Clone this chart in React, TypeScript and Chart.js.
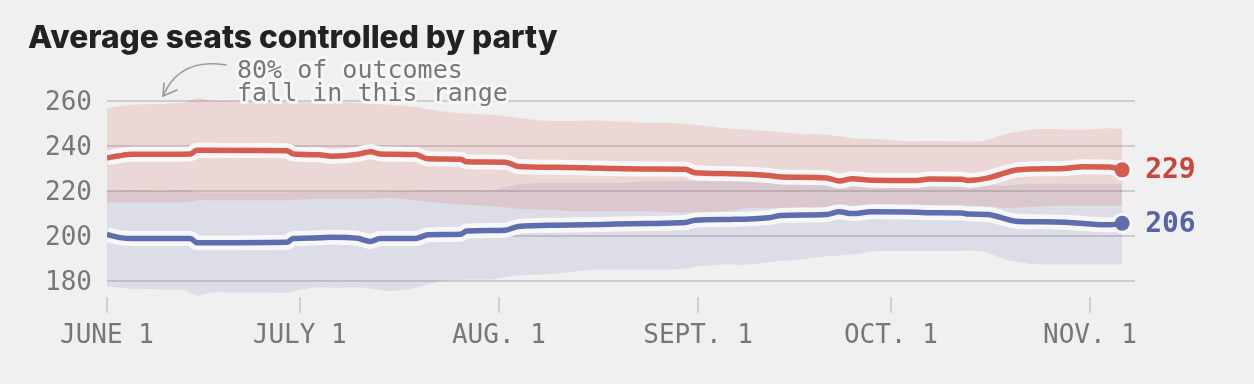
import React, { useEffect, useRef } from "react";
import { Chart, registerables } from "chart.js";

Chart.register(...registerables);

const TITLE = "Average seats controlled by party";
const NOTE_LINES = ["80% of outcomes", "fall in this range"];
const Y_TICKS = [180, 200, 220, 240, 260];
const X_TICK_DAYS = [0, 30, 61, 92, 122, 153];
const X_TICK_LABELS = ["JUNE 1", "JULY 1", "AUG. 1", "SEPT. 1", "OCT. 1", "NOV. 1"];
const END_LABELS = ["229", "206"];

// days since June 1
const MEAN_DAYS = [0, 2, 4, 13, 14, 28, 29, 33, 35, 39, 41, 42.5, 48, 50, 55, 56, 62, 64, 70, 77, 84, 90, 91.5, 97, 103, 105, 112, 114, 116, 119, 126, 128, 133, 134, 137, 141.5, 144, 149, 152, 156, 158];
const REP_MEAN = [234.8, 235.8, 236.4, 236.6, 238.2, 238.0, 236.5, 236.2, 235.5, 236.4, 237.6, 236.6, 236.3, 234.4, 234.2, 233.1, 232.9, 231.0, 230.6, 230.2, 229.9, 229.8, 228.2, 227.8, 227.0, 226.3, 225.9, 224.5, 225.5, 224.9, 224.8, 225.4, 225.3, 224.8, 225.8, 229.4, 229.9, 230.1, 230.9, 230.8, 229.5];
const DEM_MEAN = [200.7, 199.3, 198.9, 198.9, 197.0, 197.2, 198.9, 199.2, 199.5, 199.0, 197.6, 198.9, 198.9, 200.6, 200.8, 202.3, 202.6, 204.3, 204.8, 205.2, 205.6, 206.0, 207.0, 207.4, 208.2, 209.2, 209.6, 210.8, 210.0, 210.8, 210.6, 210.4, 210.3, 209.8, 209.6, 206.6, 206.4, 206.2, 205.6, 205.0, 205.7];

const BAND_DAYS = [0, 4, 8, 12, 14, 16, 20, 24, 28, 32, 36, 40, 44, 48, 52, 56, 60, 64, 68, 72, 76, 80, 84, 88, 92, 96, 100, 104, 108, 112, 116, 120, 124, 128, 132, 136, 140, 144, 148, 152, 156, 158];
const REP_HIGH = [257, 258.5, 258.8, 259.5, 261.5, 260.5, 260, 260, 259.8, 259.5, 259.6, 259.2, 258.5, 257.5, 255.6, 254.5, 254, 252.6, 251.4, 251.2, 251.5, 251, 250.4, 250.4, 249.5, 248.1, 247.2, 246.5, 245.5, 245.2, 243.6, 243.2, 242.2, 242.3, 242.2, 242.2, 245.5, 247.5, 247.6, 247.4, 248, 247.6];
const REP_LOW = [215, 215, 215, 215, 216, 216, 216, 216, 216, 216.5, 216.5, 216.5, 217, 216, 214.8, 213.8, 213.4, 212.2, 211.8, 211.1, 211.1, 211.1, 211, 210.5, 210.5, 211, 212.5, 212.5, 212.5, 212.5, 213.5, 213.5, 213.5, 213.5, 213.5, 213.5, 212.6, 213, 213.5, 213.5, 213.5, 213.5];
const DEM_HIGH = [220, 220.5, 220, 220.5, 219.5, 219.4, 219.4, 219.4, 219.4, 219.6, 219.6, 219.6, 220, 220.2, 220.5, 220.5, 220.5, 223, 223.6, 223.6, 223.6, 223.6, 224.5, 224.4, 224.4, 224.4, 224.4, 224.4, 223, 223, 222.5, 222.5, 222.5, 222.5, 222.5, 222.5, 222.5, 223.3, 223.3, 223.3, 223.3, 223.3];
const DEM_LOW = [177.7, 176.5, 176.2, 176, 173.4, 174.9, 174.9, 174.9, 174.9, 177, 177, 177, 175.5, 177, 180, 180.7, 180.7, 182.5, 182.9, 184, 185.1, 185.1, 185.1, 185.1, 186.5, 187.3, 187.3, 188.8, 189.6, 191, 191.8, 193.3, 193.3, 193.3, 193.3, 193.3, 189.5, 187.6, 187.3, 187.3, 187.3, 187.3];

const BG = "#f0f0f0";
const HALO = "#f7f7f7";
const RED = "#d65c4f";
const BLUE = "#5e6dae";
const RED_TEXT = "#c8453c";
const BLUE_TEXT = "#5564a8";
const GRAY = "#777777";
const MONO = "'DejaVu Sans Mono', monospace";
const TITLE_FONT = "Inter, 'Liberation Sans', sans-serif";

const pts = (xs: number[], ys: number[]) => xs.map((x, i) => ({ x, y: ys[i] }));

export default function App() {
  const ref = useRef<HTMLCanvasElement | null>(null);

  useEffect(() => {
    document.body.style.margin = "0";
    document.body.style.background = BG;
    const last = MEAN_DAYS.length - 1;

    const decor = {
      id: "decor",
      beforeDraw(chart: any) {
        const c = chart.ctx;
        c.save();
        c.fillStyle = BG;
        c.fillRect(0, 0, chart.width, chart.height);
        c.restore();
      },
      afterDraw(chart: any) {
        const c = chart.ctx;
        c.save();
        // title, sized to the reference's width
        c.fillStyle = "#222222";
        c.font = `800 28px ${TITLE_FONT}`;
        const w = c.measureText(TITLE).width;
        const size = Math.max(24, Math.min(32, (28 * 530) / w));
        c.font = `800 ${size.toFixed(1)}px ${TITLE_FONT}`;
        c.textAlign = "left";
        c.textBaseline = "alphabetic";
        c.fillText(TITLE, 28, 48);

        // arrow
        c.strokeStyle = "#9a9a9a";
        c.lineWidth = 1.6;
        c.lineCap = "round";
        c.lineJoin = "round";
        c.beginPath();
        c.moveTo(226, 65);
        c.bezierCurveTo(200, 61, 176, 66, 163, 96);
        c.stroke();
        c.beginPath();
        c.moveTo(164, 83);
        c.lineTo(163, 96);
        c.lineTo(177, 90);
        c.stroke();

        // note text with halo
        c.font = `25px ${MONO}`;
        c.lineWidth = 6;
        c.strokeStyle = HALO;
        c.fillStyle = GRAY;
        NOTE_LINES.forEach((t, i) => {
          const y = 78 + i * 23;
          c.strokeText(t, 237, y);
          c.fillText(t, 237, y);
        });

        // end labels
        c.font = `bold 28px ${MONO}`;
        c.textBaseline = "middle";
        const idx = [6, 7];
        const cols = [RED_TEXT, BLUE_TEXT];
        idx.forEach((di, k) => {
          const p = chart.getDatasetMeta(di).data[last];
          if (!p) return;
          c.fillStyle = cols[k];
          c.fillText(END_LABELS[k], p.x + 23, p.y + 1);
        });
        c.restore();
      },
    };

    const endRadius = (r: number) => (ctx: any) => (ctx.dataIndex === last ? r : 0);

    const chart = new Chart(ref.current as HTMLCanvasElement, {
      type: "line",
      data: {
        datasets: [
          { label: "demHigh", data: pts(BAND_DAYS, DEM_HIGH), fill: 1, backgroundColor: "rgba(90,100,170,0.135)", borderColor: "transparent", borderWidth: 0, pointRadius: 0, tension: 0.2, order: 20 },
          { label: "demLow", data: pts(BAND_DAYS, DEM_LOW), fill: false, borderColor: "transparent", borderWidth: 0, pointRadius: 0, tension: 0.2, order: 19 },
          { label: "repHigh", data: pts(BAND_DAYS, REP_HIGH), fill: 3, backgroundColor: "rgba(210,80,70,0.15)", borderColor: "transparent", borderWidth: 0, pointRadius: 0, tension: 0.2, order: 18 },
          { label: "repLow", data: pts(BAND_DAYS, REP_LOW), fill: false, borderColor: "transparent", borderWidth: 0, pointRadius: 0, tension: 0.2, order: 17 },
          { label: "repHalo", data: pts(MEAN_DAYS, REP_MEAN), fill: false, borderColor: HALO, borderWidth: 15, pointRadius: endRadius(10.5), pointBackgroundColor: HALO, pointBorderWidth: 0, cubicInterpolationMode: "monotone", order: 6 },
          { label: "demHalo", data: pts(MEAN_DAYS, DEM_MEAN), fill: false, borderColor: HALO, borderWidth: 15, pointRadius: endRadius(10.5), pointBackgroundColor: HALO, pointBorderWidth: 0, cubicInterpolationMode: "monotone", order: 5 },
          { label: "rep", data: pts(MEAN_DAYS, REP_MEAN), fill: false, borderColor: RED, borderWidth: 5.5, pointRadius: endRadius(7.5), pointBackgroundColor: RED, pointBorderWidth: 0, cubicInterpolationMode: "monotone", order: 2 },
          { label: "dem", data: pts(MEAN_DAYS, DEM_MEAN), fill: false, borderColor: BLUE, borderWidth: 5.5, pointRadius: endRadius(7.5), pointBackgroundColor: BLUE, pointBorderWidth: 0, cubicInterpolationMode: "monotone", order: 1 },
        ] as any,
      },
      options: {
        responsive: false,
        maintainAspectRatio: false,
        animation: false,
        events: [],
        layout: { padding: { top: 94.6, right: 119, bottom: 0, left: 0 } },
        plugins: { legend: { display: false }, tooltip: { enabled: false }, title: { display: false } },
        scales: {
          x: {
            type: "linear",
            min: 0,
            max: 160,
            afterBuildTicks: (s: any) => {
              s.ticks = X_TICK_DAYS.map((v) => ({ value: v }));
            },
            afterFit: (s: any) => {
              s.height = 87.3;
            },
            ticks: {
              autoSkip: false,
              maxRotation: 0,
              color: GRAY,
              font: { family: MONO, size: 26 },
              padding: 8,
              callback: (_v: any, i: number) => X_TICK_LABELS[i],
            },
            grid: { drawOnChartArea: false, drawTicks: true, tickLength: 16, color: "#cfcfcf", lineWidth: 2 },
            border: { display: false },
          },
          y: {
            min: 173,
            max: 263,
            afterBuildTicks: (s: any) => {
              s.ticks = Y_TICKS.map((v) => ({ value: v }));
            },
            afterFit: (s: any) => {
              s.width = 107;
            },
            ticks: { color: GRAY, font: { family: MONO, size: 26 }, padding: 15, labelOffset: 2 },
            grid: { drawTicks: false, color: "#cdcdcd", lineWidth: 2 },
            border: { display: false },
          },
        },
      } as any,
      plugins: [decor],
    });
    return () => chart.destroy();
  }, []);

  return (
    <div style={{ width: 1254, height: 384 }}>
      <canvas ref={ref} width={1254} height={384} style={{ display: "block" }} />
    </div>
  );
}
